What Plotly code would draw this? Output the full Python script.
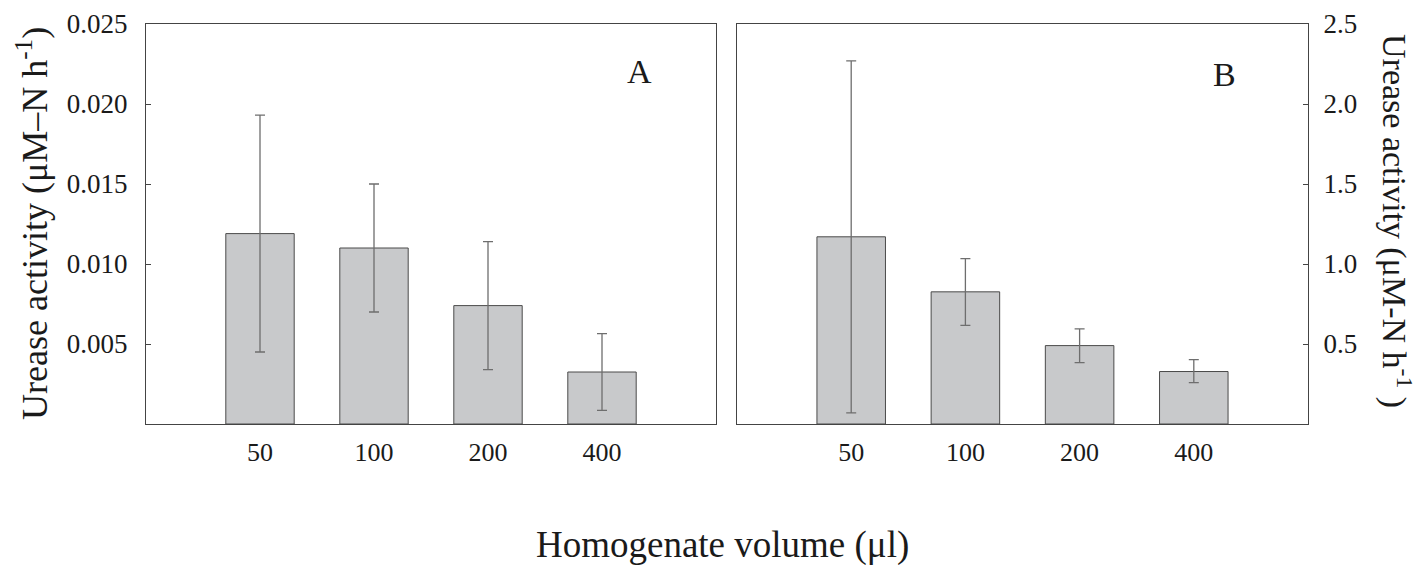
import plotly.graph_objects as go

# ---- data ----
volumes = ["50", "100", "200", "400"]
activity_a = [0.0119, 0.0110, 0.0074, 0.00325]
err_a = [0.0074, 0.0040, 0.0040, 0.0024]
activity_b = [1.17, 0.826, 0.49, 0.328]
err_b_plus = [1.10, 0.207, 0.105, 0.074]
err_b_minus = [1.10, 0.210, 0.106, 0.070]
yticks_a = [0.005, 0.010, 0.015, 0.020, 0.025]
yticks_b = [0.5, 1.0, 1.5, 2.0, 2.5]

FONT = "Liberation Serif, Times New Roman, serif"
BAR_FILL = "#c8c9cb"
BAR_LINE = "#4a4a4a"
ERR_COL = "#6e6e6e"
AX_COL = "#444444"

W, H = 1419, 565
fig = go.Figure()

fig.add_trace(go.Bar(
    x=volumes, y=activity_a, xaxis="x", yaxis="y", width=0.6,
    marker=dict(color=BAR_FILL, line=dict(color=BAR_LINE, width=1)),
    error_y=dict(type="data", array=err_a, color=ERR_COL, thickness=1.3, width=5),
    showlegend=False, hoverinfo="skip",
))
fig.add_trace(go.Bar(
    x=volumes, y=activity_b, xaxis="x2", yaxis="y2", width=0.6,
    marker=dict(color=BAR_FILL, line=dict(color=BAR_LINE, width=1)),
    error_y=dict(type="data", symmetric=False, array=err_b_plus, arrayminus=err_b_minus,
                 color=ERR_COL, thickness=1.3, width=5),
    showlegend=False, hoverinfo="skip",
))

y0 = (H - 424) / H
y1 = (H - 24) / H

common_x = dict(type="category", range=[-1, 4], showgrid=False, zeroline=False,
                showline=True, linecolor=AX_COL, linewidth=1, mirror=True, ticks="",
                tickfont=dict(family=FONT, size=26, color="#1a1a1a"),
                ticklabelstandoff=5, automargin=False)
common_y = dict(showgrid=False, zeroline=False, showline=True, linecolor=AX_COL,
                linewidth=1, mirror=True, ticks="inside", ticklen=5, tickcolor=AX_COL,
                tickfont=dict(family=FONT, size=27, color="#1a1a1a"),
                domain=[y0, y1], automargin=False)

fig.update_layout(
    template="none",
    width=W, height=H,
    margin=dict(l=0, r=0, t=0, b=0, pad=0),
    paper_bgcolor="white", plot_bgcolor="white",
    bargap=0.4,
    xaxis=dict(domain=[146 / W, 716 / W], anchor="y", **common_x),
    xaxis2=dict(domain=[737 / W, 1308 / W], anchor="y2", **common_x),
    yaxis=dict(anchor="x", range=[0, 0.025], tickvals=yticks_a, tickformat=".3f",
               ticklabelstandoff=12, **common_y),
    yaxis2=dict(anchor="x2", side="right", range=[0, 2.5], tickvals=yticks_b,
                tickformat=".1f", ticklabelstandoff=9, **common_y),
    font=dict(family=FONT, color="#1a1a1a"),
)

annots = [
    dict(text="A", x=639 / W, y=(H - 71) / H, font=dict(size=34)),
    dict(text="B", x=1224 / W, y=(H - 74) / H, font=dict(size=34)),
    dict(text="Homogenate volume (μl)", x=722 / W, y=(H - 545) / H, font=dict(size=37)),
    dict(text="Urease activity (μM–N h<sup>-1</sup>)", x=32 / W, y=(H - 224) / H,
         textangle=-90, font=dict(size=36)),
    dict(text="Urease activity (μM-N h<sup>-1</sup> )", x=1397 / W, y=(H - 221) / H,
         textangle=90, font=dict(size=34)),
]
for a in annots:
    fig.add_annotation(xref="paper", yref="paper", showarrow=False,
                       xanchor="center", yanchor="middle",
                       font=dict(family=FONT, color="#1a1a1a", size=a["font"]["size"]),
                       **{k: v for k, v in a.items() if k != "font"})

fig.write_html(
    "out.html",
    config={"displayModeBar": False, "responsive": False},
    post_script="document.body.style.margin='0';document.body.style.overflow='hidden';",
)
